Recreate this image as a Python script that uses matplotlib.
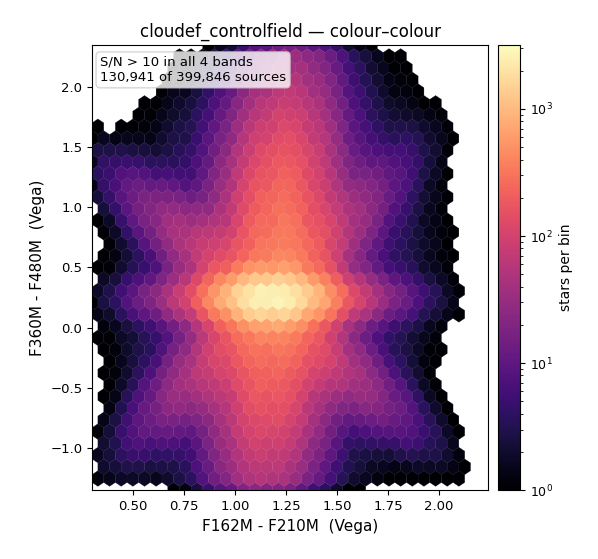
import numpy as np
import matplotlib
matplotlib.use("Agg")
import matplotlib.pyplot as plt
from matplotlib.colors import LogNorm

# Density model components (centre x, centre y, sigma major, sigma minor, angle deg, number of stars)
comp_x = [1.18, 1.20, 1.15, 1.15, 1.18, 1.20]
comp_y = [0.25, 0.40, 0.20, 0.20, 0.25, 0.40]
comp_s1 = [0.15, 0.85, 0.55, 0.55, 0.26, 1.00]
comp_s2 = [0.11, 0.14, 0.11, 0.11, 0.11, 0.36]
comp_ang = [0, 88, 123, 62, 0, 88]
comp_n = [40000, 45000, 7000, 7000, 8000, 6000]
total_shown = 130941
total_all = 399846

xlim = (0.3, 2.24)
ylim = (-1.35, 2.35)

step = 0.01
gx, gy = np.meshgrid(np.arange(xlim[0], xlim[1], step) + step / 2,
                     np.arange(ylim[0], ylim[1], step) + step / 2)
gx = gx.ravel(); gy = gy.ravel()
dens = np.zeros_like(gx)
for cx, cy, s1, s2, a, n in zip(comp_x, comp_y, comp_s1, comp_s2, comp_ang, comp_n):
    t = np.deg2rad(a)
    dx, dy = gx - cx, gy - cy
    u = dx * np.cos(t) + dy * np.sin(t)
    v = -dx * np.sin(t) + dy * np.cos(t)
    dens += n * np.exp(-0.5 * (u / s1) ** 2 - 0.5 * (v / s2) ** 2) / (2 * np.pi * s1 * s2) * step * step

fig = plt.figure(figsize=(5.98, 5.59), dpi=100)
ax = fig.add_axes([0.154, 0.123, 0.662, 0.797])
cax = fig.add_axes([0.833, 0.123, 0.037, 0.797])

hb = ax.hexbin(gx, gy, C=dens, reduce_C_function=np.sum, gridsize=34,
               extent=(xlim[0], xlim[1], ylim[0], ylim[1]),
               cmap="magma", norm=LogNorm(vmin=1, vmax=3200), linewidths=0.2)
arr = np.ma.masked_less(hb.get_array(), 0.8)
hb.set_array(arr)
ax.set_xlim(*xlim); ax.set_ylim(*ylim)
ax.tick_params(labelsize=9.5)
ax.set_xlabel("F162M - F210M  (Vega)", fontsize=11)
ax.set_ylabel("F360M - F480M  (Vega)", fontsize=11)
ax.set_title("cloudef_controlfield — colour–colour", fontsize=12)
ax.text(0.02, 0.975, f"S/N > 10 in all 4 bands\n{total_shown:,} of {total_all:,} sources",
        transform=ax.transAxes, va="top", ha="left", fontsize=9.5,
        bbox=dict(boxstyle="round", fc="white", ec="0.8", alpha=0.8))
cb = fig.colorbar(hb, cax=cax)
cb.ax.tick_params(labelsize=9)
cb.set_label("stars per bin", fontsize=10)
fig.savefig("out.png", dpi=100)
